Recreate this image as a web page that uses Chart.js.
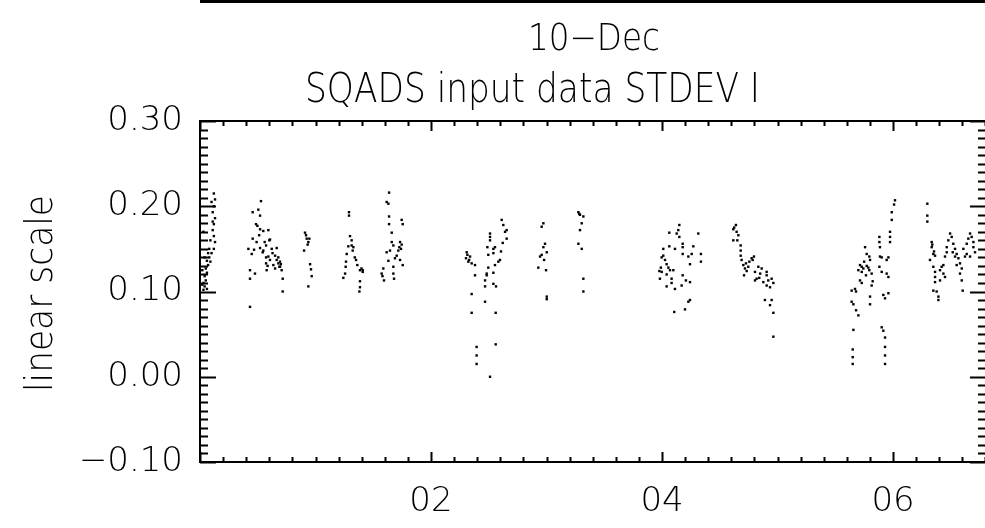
<!DOCTYPE html>
<html>
<head>
<meta charset="utf-8">
<script src="https://cdn.jsdelivr.net/npm/chart.js@4.4.1/dist/chart.umd.min.js"></script>
<style>
html, body { margin: 0; padding: 0; background: #fff; overflow: hidden; }
#graphique { display: block; }
</style>
</head>
<body>
<canvas id="graphique" width="1000" height="528"></canvas>
<script>
// heures (UT) et STDEV I, un tableau par passage
var passage1 = [[0.12,0.215],[0.13,0.208],[0.12,0.200],[0.11,0.193],[0.13,0.186],[0.12,0.179],[0.11,0.172],[0.12,0.165],[0.13,0.158],[0.12,0.150],[0.10,0.145],[0.08,0.140],[0.06,0.136],[0.07,0.131],[0.05,0.127],[0.06,0.122],[0.04,0.118],[0.05,0.113],[0.03,0.110],[0.04,0.106],[0.06,0.103],[0.08,0.150],[0.09,0.160],[0.03,0.170],[0.02,0.125],[0.03,0.102],[0.10,0.205],[0.11,0.182],[0.09,0.135],[0.07,0.145],[0.04,0.140],[0.02,0.108]];
var passage2 = [[0.528,0.206],[0.456,0.193],[0.505,0.196],[0.520,0.189],[0.485,0.179],[0.497,0.177],[0.520,0.173],[0.548,0.171],[0.592,0.172],[0.456,0.162],[0.419,0.150],[0.468,0.149],[0.448,0.144],[0.520,0.151],[0.548,0.148],[0.543,0.146],[0.572,0.154],[0.600,0.160],[0.606,0.161],[0.621,0.150],[0.664,0.151],[0.650,0.142],[0.678,0.140],[0.693,0.135],[0.687,0.129],[0.693,0.129],[0.707,0.125],[0.716,0.115],[0.572,0.140],[0.592,0.141],[0.572,0.133],[0.577,0.125],[0.606,0.137],[0.635,0.131],[0.650,0.127],[0.664,0.137],[0.678,0.133],[0.433,0.125],[0.433,0.115],[0.476,0.121],[0.716,0.100],[0.433,0.082],[0.490,0.158],[0.512,0.166],[0.560,0.158],[0.628,0.145],[0.700,0.132],[0.585,0.130]];
var passage3 = [[0.909,0.169],[0.918,0.166],[0.924,0.162],[0.947,0.162],[0.938,0.158],[0.932,0.155],[0.901,0.148],[0.953,0.132],[0.961,0.126],[0.967,0.118],[0.938,0.106]];
var passage4 = [[1.290,0.193],[1.290,0.189],[1.299,0.165],[1.313,0.160],[1.313,0.154],[1.284,0.153],[1.328,0.152],[1.322,0.148],[1.270,0.144],[1.264,0.135],[1.261,0.129],[1.256,0.121],[1.241,0.116],[1.351,0.137],[1.362,0.131],[1.385,0.125],[1.409,0.125],[1.409,0.123],[1.385,0.112],[1.385,0.105],[1.380,0.100],[1.340,0.140],[1.398,0.127]];
var passage5 = [[1.637,0.216],[1.616,0.205],[1.631,0.203],[1.637,0.188],[1.637,0.179],[1.746,0.184],[1.755,0.179],[1.660,0.169],[1.660,0.158],[1.674,0.154],[1.732,0.158],[1.746,0.155],[1.726,0.152],[1.717,0.148],[1.645,0.148],[1.703,0.142],[1.688,0.139],[1.616,0.146],[1.631,0.136],[1.732,0.137],[1.755,0.131],[1.587,0.127],[1.573,0.121],[1.593,0.113],[1.674,0.129],[1.674,0.121],[1.680,0.115],[1.580,0.118],[1.740,0.150]];
var passage6 = [[2.309,0.146],[2.338,0.141],[2.303,0.139],[2.323,0.135],[2.352,0.133],[2.381,0.131],[2.381,0.119],[2.352,0.097],[2.352,0.075],[2.395,0.035],[2.395,0.025],[2.395,0.015],[2.511,0.000],[2.468,0.088],[2.468,0.106],[2.468,0.113],[2.482,0.121],[2.482,0.119],[2.496,0.128],[2.496,0.143],[2.488,0.152],[2.511,0.168],[2.511,0.164],[2.511,0.160],[2.540,0.150],[2.554,0.152],[2.540,0.145],[2.606,0.147],[2.621,0.157],[2.655,0.162],[2.655,0.172],[2.641,0.170],[2.626,0.178],[2.612,0.184],[2.554,0.131],[2.583,0.135],[2.597,0.137],[2.540,0.122],[2.540,0.109],[2.563,0.106],[2.560,0.075],[2.560,0.038],[2.315,0.143],[2.330,0.137]];
var passage7 = [[2.973,0.180],[2.958,0.176],[2.987,0.156],[2.973,0.152],[3.002,0.146],[2.958,0.143],[2.944,0.141],[2.979,0.137],[2.929,0.128],[2.996,0.125],[3.002,0.094],[3.002,0.091]];
var passage8 = [[3.276,0.193],[3.284,0.191],[3.290,0.190],[3.319,0.188],[3.305,0.180],[3.290,0.172],[3.276,0.156],[3.305,0.150],[3.319,0.115],[3.319,0.100]];
var passage9 = [[4.150,0.178],[4.141,0.172],[4.127,0.168],[4.063,0.169],[4.150,0.164],[4.314,0.168],[4.179,0.156],[4.179,0.152],[4.271,0.153],[4.063,0.153],[4.011,0.150],[4.112,0.150],[4.011,0.142],[4.026,0.137],[4.040,0.132],[3.997,0.140],[4.179,0.144],[4.228,0.141],[4.257,0.144],[4.337,0.144],[4.337,0.135],[4.242,0.132],[3.977,0.124],[3.997,0.123],[4.069,0.125],[4.098,0.125],[4.040,0.120],[3.982,0.115],[4.083,0.115],[4.179,0.119],[4.207,0.113],[4.242,0.111],[4.083,0.110],[4.040,0.106],[4.112,0.103],[4.170,0.107],[4.242,0.090],[4.228,0.088],[4.199,0.079],[4.106,0.076],[3.990,0.128],[4.055,0.128]];
var passage10 = [[4.640,0.178],[4.617,0.173],[4.646,0.170],[4.661,0.166],[4.617,0.160],[4.652,0.160],[4.681,0.154],[4.681,0.148],[4.681,0.142],[4.689,0.137],[4.704,0.131],[4.727,0.133],[4.756,0.135],[4.776,0.139],[4.796,0.141],[4.718,0.127],[4.733,0.124],[4.747,0.129],[4.710,0.119],[4.834,0.129],[4.863,0.127],[4.906,0.123],[4.805,0.123],[4.819,0.115],[4.805,0.113],[4.842,0.116],[4.906,0.119],[4.920,0.113],[4.949,0.115],[4.964,0.110],[4.906,0.107],[4.935,0.105],[4.877,0.111],[4.891,0.090],[4.949,0.090],[4.935,0.084],[4.964,0.075],[4.964,0.047],[4.625,0.175],[4.785,0.137],[4.850,0.121]];
var passage11 = [[6.017,0.207],[6.009,0.202],[5.989,0.193],[5.989,0.184],[5.974,0.170],[5.974,0.164],[5.974,0.158],[5.960,0.140],[5.945,0.137],[5.902,0.140],[5.887,0.141],[5.882,0.158],[5.882,0.164],[5.887,0.152],[5.758,0.152],[5.772,0.144],[5.795,0.141],[5.801,0.137],[5.714,0.131],[5.729,0.129],[5.700,0.125],[5.743,0.127],[5.772,0.130],[5.795,0.125],[5.815,0.121],[5.729,0.123],[5.766,0.119],[5.714,0.113],[5.729,0.110],[5.824,0.112],[5.815,0.107],[5.671,0.103],[5.642,0.101],[5.680,0.100],[5.882,0.129],[5.902,0.123],[5.945,0.121],[5.960,0.117],[5.642,0.088],[5.657,0.085],[5.680,0.078],[5.700,0.072],[5.801,0.094],[5.801,0.085],[5.916,0.096],[5.931,0.092],[5.960,0.098],[5.657,0.055],[5.651,0.032],[5.651,0.023],[5.651,0.015],[5.902,0.058],[5.916,0.054],[5.931,0.046],[5.931,0.035],[5.931,0.025],[5.931,0.015],[5.750,0.135],[5.786,0.128]];
var passage12 = [[6.297,0.203],[6.297,0.189],[6.297,0.182],[6.335,0.158],[6.335,0.152],[6.349,0.144],[6.364,0.142],[6.320,0.137],[6.349,0.129],[6.364,0.123],[6.364,0.117],[6.364,0.111],[6.349,0.101],[6.378,0.100],[6.393,0.094],[6.393,0.090],[6.407,0.125],[6.421,0.129],[6.436,0.131],[6.450,0.141],[6.465,0.152],[6.479,0.160],[6.494,0.168],[6.508,0.164],[6.522,0.156],[6.537,0.150],[6.551,0.144],[6.537,0.141],[6.566,0.139],[6.580,0.133],[6.595,0.127],[6.580,0.121],[6.595,0.113],[6.603,0.101],[6.465,0.146],[6.517,0.146],[6.609,0.150],[6.638,0.156],[6.652,0.162],[6.667,0.168],[6.681,0.164],[6.696,0.158],[6.696,0.152],[6.710,0.146],[6.638,0.144],[6.623,0.141],[6.667,0.141],[6.436,0.121],[6.407,0.113],[6.450,0.117],[6.551,0.131],[6.340,0.155],[6.355,0.147]];

var xTickValues = [2, 4, 6];
var xTickLabels = ['02', '04', '06'];
var yTickValues = [-0.1, 0.0, 0.1, 0.2, 0.3];
var yTickLabels = ['\u22120.10', '0.00', '0.10', '0.20', '0.30'];

var titreDate = '10\u2212Dec';
var titre = 'SQADS input data STDEV I';
var titreY = 'linear scale';

var tousLesPassages = [passage1, passage2, passage3, passage4, passage5, passage6,
                       passage7, passage8, passage9, passage10, passage11, passage12];
var points = [];
tousLesPassages.forEach(function (p) {
    p.forEach(function (d) { points.push({ x: d[0], y: d[1] }); });
});

var police = '"DejaVu Sans"';

// texte etire a la largeur voulue (police vectorielle IDL plus etroite)
function texteAjuste(c, txt, x0, x1, base, taille) {
    c.font = '200 ' + taille + 'px ' + police;
    var w = c.measureText(txt).width;
    c.save();
    c.translate(x0, base);
    c.scale((x1 - x0) / w, 1);
    c.textAlign = 'left';
    c.textBaseline = 'alphabetic';
    c.fillText(txt, 0, 0);
    c.restore();
}

// cadre, graduations et titres facon IDL
var cadre = {
    id: 'cadre',
    afterDraw: function (chart) {
        var c = chart.ctx, a = chart.chartArea;
        var sx = chart.scales.x, sy = chart.scales.y;
        c.save();
        c.fillStyle = '#000';
        c.strokeStyle = '#000';

        c.fillRect(200, 0, 800, 3);

        c.lineWidth = 2;
        c.strokeRect(a.left, a.top, a.right - a.left, a.bottom - a.top);

        c.lineWidth = 2;
        c.beginPath();
        for (var k = -10; k <= 30; k++) {
            var y = Math.round(sy.getPixelForValue(k / 100)) + 0.5;
            var l = (k % 10 === 0) ? 16 : 8;
            c.moveTo(a.left, y); c.lineTo(a.left + l, y);
            c.moveTo(a.right, y); c.lineTo(a.right - l, y);
        }
        for (var j = 0; j * 0.2 <= sx.max; j++) {
            var x = Math.round(sx.getPixelForValue(j * 0.2)) + 0.5;
            var lx = (j % 10 === 0) ? 10 : 5;
            c.moveTo(x, a.bottom); c.lineTo(x, a.bottom - lx);
            c.moveTo(x, a.top); c.lineTo(x, a.top + lx);
        }
        c.stroke();

        texteAjuste(c, titreDate, 528, 660, 50, 37);
        texteAjuste(c, titre, 305, 760, 102, 41);

        c.save();
        c.translate(52, 392);
        c.rotate(-Math.PI / 2);
        texteAjuste(c, titreY, 0, 197, 0, 37);
        c.restore();

        c.restore();
    }
};

var ctx = document.getElementById('graphique').getContext('2d');
var chart = new Chart(ctx, {
    type: 'scatter',
    data: {
        datasets: [{
            data: points,
            backgroundColor: '#000',
            borderColor: '#000',
            borderWidth: 0,
            pointStyle: 'rect',
            pointRadius: 1.7,
            pointHoverRadius: 1.7
        }]
    },
    options: {
        responsive: false,
        animation: false,
        events: [],
        layout: { padding: { top: 121, right: 14, left: 0, bottom: 0 } },
        plugins: { legend: { display: false }, tooltip: { enabled: false } },
        scales: {
            x: {
                type: 'linear',
                min: 0,
                max: 6.805,
                grid: { display: false, drawTicks: false },
                border: { display: false },
                afterBuildTicks: function (s) { s.ticks = xTickValues.map(function (v) { return { value: v }; }); },
                afterFit: function (s) { s.height = 66; },
                ticks: {
                    color: '#000',
                    autoSkip: false,
                    maxRotation: 0,
                    padding: 20,
                    font: { family: 'DejaVu Sans', size: 34, weight: '200' },
                    callback: function (v, i) { return xTickLabels[i]; }
                }
            },
            y: {
                min: -0.1,
                max: 0.3,
                grid: { display: false, drawTicks: false },
                border: { display: false },
                afterBuildTicks: function (s) { s.ticks = yTickValues.map(function (v) { return { value: v }; }); },
                afterFit: function (s) { s.width = 200; },
                ticks: {
                    color: '#000',
                    autoSkip: false,
                    padding: 17,
                    font: { family: 'DejaVu Sans', size: 34, weight: '200' },
                    callback: function (v, i) { return yTickLabels[i]; }
                }
            }
        }
    },
    plugins: [cadre]
});
</script>
</body>
</html>
